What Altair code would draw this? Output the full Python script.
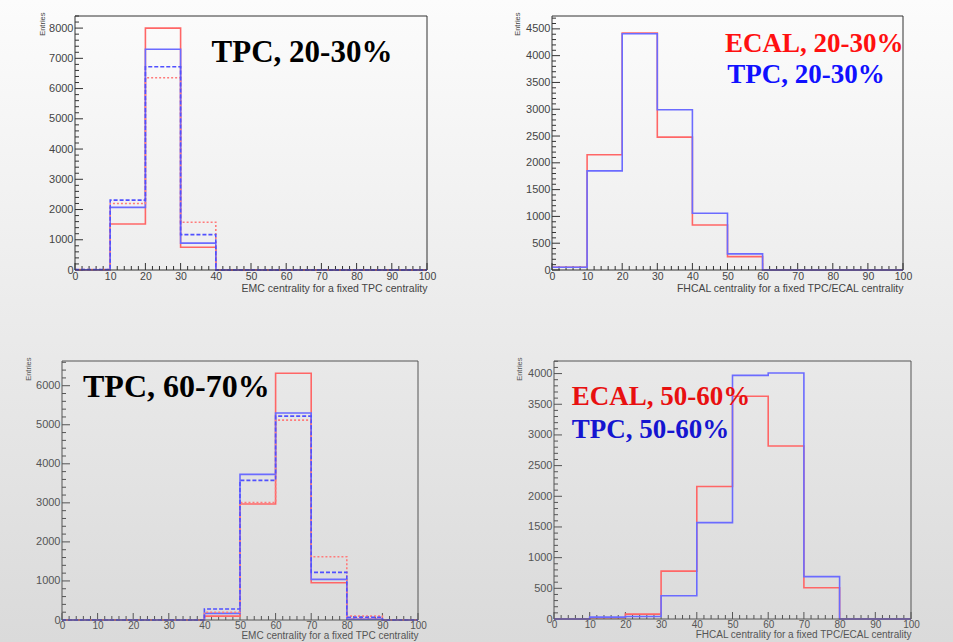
import altair as alt
import pandas as pd

# ---------------- data ----------------
edges = [0, 10, 20, 30, 40, 50, 60, 70, 80, 90, 100]
x_tick_labels = [0, 10, 20, 30, 40, 50, 60, 70, 80, 90, 100]

# Panel 1: EMC centrality for fixed TPC centrality 20-30%
p1_red_solid = [10, 1520, 8000, 750, 0, 0, 0, 0, 0, 0]
p1_blue_solid = [10, 2070, 7300, 890, 0, 0, 0, 0, 0, 0]
p1_red_dash = [15, 2200, 6360, 1580, 0, 0, 0, 0, 0, 0]
p1_blue_dash = [15, 2310, 6720, 1170, 0, 0, 0, 0, 0, 0]
p1_y_labels = [0, 1000, 2000, 3000, 4000, 5000, 6000, 7000, 8000]

# Panel 2: FHCAL centrality, ECAL / TPC 20-30%
p2_red = [50, 2150, 4420, 2480, 840, 250, 0, 0, 0, 0]
p2_blue = [50, 1850, 4410, 2990, 1060, 300, 0, 0, 0, 0]
p2_y_labels = [0, 500, 1000, 1500, 2000, 2500, 3000, 3500, 4000, 4500]

# Panel 3: EMC centrality for fixed TPC centrality 60-70%
p3_red_solid = [0, 0, 0, 0, 100, 2970, 6320, 955, 20, 0]
p3_blue_solid = [0, 0, 0, 0, 170, 3730, 5300, 1040, 20, 0]
p3_red_dash = [0, 0, 0, 0, 200, 3010, 5120, 1620, 100, 0]
p3_blue_dash = [0, 0, 0, 0, 280, 3575, 5220, 1220, 70, 0]
p3_y_labels = [0, 1000, 2000, 3000, 4000, 5000, 6000]

# Panel 4: FHCAL centrality, ECAL / TPC 50-60%
p4_red = [0, 20, 80, 780, 2160, 3630, 2820, 510, 0, 0]
p4_blue = [0, 30, 40, 380, 1570, 3970, 4010, 690, 0, 0]
p4_y_labels = [0, 500, 1000, 1500, 2000, 2500, 3000, 3500, 4000]

SERIF = "Liberation Serif"
SANS = "Liberation Sans"


def gray(y):
    v = int(round(252 - 34 * y / 642))
    return "#%02x%02x%02x" % (v, v, v)


def hist_df(series):
    rows = []
    for name, vals in series.items():
        ext = list(vals) + [vals[-1]]
        for e, v in zip(edges, ext):
            rows.append({"edge": e, "count": v, "series": name})
    return pd.DataFrame(rows)


def panel(series, colors, dashes, ymax, ylabels, yminor_step, ox, W, H,
          rect, gy, texts, xtitle, title_x, frame_color, label_color, xfont):
    rx0, rx1, ry0, ry1 = rect
    lab_fs, lab_pad, tit_fs, tit_pad = xfont
    xs = alt.Scale(domain=[0, 100], nice=False, zero=False, range=[ox, ox + W])
    ys = alt.Scale(domain=[0, ymax], nice=False, zero=True)
    xaxis = alt.Axis(values=x_tick_labels, format="d", title=xtitle, titleAnchor="end",
                     titleFont=SANS, titleFontSize=tit_fs, titleFontWeight="normal",
                     titleColor=label_color, titlePadding=tit_pad, labelFont=SANS,
                     labelFontSize=lab_fs, labelColor=label_color, labelPadding=lab_pad,
                     labelFlush=False, labelOverlap=False, ticks=False, tickSize=0,
                     domain=False, grid=False, zindex=1)
    yaxis = alt.Axis(values=ylabels, format="d", title="Entries", titleFont=SANS,
                     titleFontSize=7.5, titleFontWeight="normal", titleColor=label_color,
                     titleX=title_x, titleY=-4, titleAngle=270, titleAlign="right",
                     titleBaseline="middle", labelFont=SANS, labelFontSize=11,
                     labelColor=label_color, labelPadding=2, labelOverlap=False,
                     ticks=False, tickSize=0, domain=False, grid=False, zindex=1,
                     offset=-ox)

    dummy = pd.DataFrame({"a": [0]})
    grad = alt.LinearGradient(gradient="linear", x1=0, x2=0, y1=0, y2=1,
                              stops=[alt.GradientStop(color=gray(gy[0]), offset=0),
                                     alt.GradientStop(color=gray(gy[1]), offset=1)])
    bg = alt.Chart(dummy).mark_rect(color=grad).encode(
        x=alt.value(rx0), x2=alt.value(rx1), y=alt.value(ry0), y2=alt.value(ry1))

    ymajor = pd.DataFrame({"v": ylabels})
    yminor = pd.DataFrame({"v": [v for v in range(0, int(ymax) + 1, yminor_step) if v not in ylabels]})
    xmajor = pd.DataFrame({"v": x_tick_labels})
    xminor = pd.DataFrame({"v": [v for v in range(0, 101, 2) if v not in x_tick_labels]})

    def yt(df, ln):
        return alt.Chart(df).mark_rule(color=frame_color, strokeWidth=1).encode(
            y=alt.Y("v:Q", scale=ys, axis=yaxis), x=alt.value(ox), x2=alt.value(ox + ln))

    def xt(df, ln):
        return alt.Chart(df).mark_rule(color=frame_color, strokeWidth=1).encode(
            x=alt.X("v:Q", scale=xs, axis=xaxis), y=alt.value(H), y2=alt.value(H - ln))

    names = list(series.keys())
    lines = alt.Chart(hist_df(series)).mark_line(interpolate="step-after", strokeWidth=1.6).encode(
        x=alt.X("edge:Q", scale=xs, axis=xaxis),
        y=alt.Y("count:Q", scale=ys, axis=yaxis),
        color=alt.Color("series:N", scale=alt.Scale(domain=names, range=colors), legend=None),
        strokeDash=alt.StrokeDash("series:N", scale=alt.Scale(domain=names, range=dashes), legend=None),
        detail="series:N",
    )

    tdf = pd.DataFrame(texts)
    txt = alt.Chart(tdf).mark_text(font=SERIF, fontWeight="bold", align="left",
                                   baseline="alphabetic").encode(
        x=alt.X("x:Q", scale=xs, axis=xaxis),
        y=alt.Y("y:Q", scale=ys, axis=yaxis),
        text="label:N",
        color=alt.Color("c:N", scale=None),
        size=alt.Size("s:Q", scale=None),
    )

    frame = alt.Chart(dummy).mark_rect(filled=False, stroke=frame_color, strokeWidth=1).encode(
        x=alt.value(ox), x2=alt.value(ox + W), y=alt.value(0), y2=alt.value(H))

    return alt.layer(bg, yt(yminor, 4), yt(ymajor, 8), xt(xminor, 4), xt(xmajor, 7),
                     lines, txt, frame).properties(width=ox + W, height=H)


RED = "#ff6666"
BLUE = "#6b6bff"
TOP_XFONT = (10.5, 1, 10.5, 2)
BOT_XFONT = (10, 0, 10, 0)

p1 = panel({"red_solid": p1_red_solid, "blue_solid": p1_blue_solid,
            "red_dash": p1_red_dash, "blue_dash": p1_blue_dash},
           [RED, BLUE, "#ff7b7b", "#5050ff"], [[1, 0], [1, 0], [2, 2], [4, 2]],
           8400, p1_y_labels, 200, 13, 352, 254, (-62, 414, -16, 304), (0, 320),
           [{"label": "TPC, 20-30%", "x": 38.8, "y": 6880, "c": "#000000", "s": 31}],
           "EMC centrality for a fixed TPC centrality", -33, "#333333", "#444444", TOP_XFONT)

p2 = panel({"red": p2_red, "blue": p2_blue}, [RED, BLUE], [[1, 0], [1, 0]],
           4740, p2_y_labels, 100, 0, 351, 254, (-76, 401, -16, 304), (0, 320),
           [{"label": "ECAL, 20-30%", "x": 49.3, "y": 4070, "c": "#ff1010", "s": 27},
            {"label": "TPC, 20-30%", "x": 49.9, "y": 3490, "c": "#1010ff", "s": 27}],
           "FHCAL centrality for a fixed TPC/ECAL centrality", -35, "#333333", "#444444", TOP_XFONT)

p3 = panel({"red_solid": p3_red_solid, "blue_solid": p3_blue_solid,
            "red_dash": p3_red_dash, "blue_dash": p3_blue_dash},
           [RED, BLUE, "#ff7b7b", "#5050ff"], [[1, 0], [1, 0], [2, 2], [4, 2]],
           6633, p3_y_labels, 200, 0, 356, 259, (-62, 414, -41, 281), (320, 642),
           [{"label": "TPC, 60-70%", "x": 5.9, "y": 5710, "c": "#000000", "s": 32}],
           "EMC centrality for a fixed TPC centrality", -34, "#555555", "#555555", BOT_XFONT)

p4 = panel({"red": p4_red, "blue": p4_blue}, ["#ff5555", "#6666ee"], [[1, 0], [1, 0]],
           4205, p4_y_labels, 100, 0, 357, 258, (-78, 399, -41, 281), (320, 642),
           [{"label": "ECAL, 50-60%", "x": 5.0, "y": 3480, "c": "#e81010", "s": 27},
            {"label": "TPC, 50-60%", "x": 5.0, "y": 2945, "c": "#1515d0", "s": 27}],
           "FHCAL centrality for a fixed TPC/ECAL centrality", -35, "#555555", "#555555", BOT_XFONT)

chart = alt.vconcat(
    alt.hconcat(p1, p2, spacing=125, bounds="flush"),
    alt.hconcat(p3, p4, spacing=136, bounds="flush"),
    spacing=0,
).properties(padding=0, background=gray(320)).configure_view(stroke=None)

chart.save("out.html", embed_options={"renderer": "svg", "actions": False})
